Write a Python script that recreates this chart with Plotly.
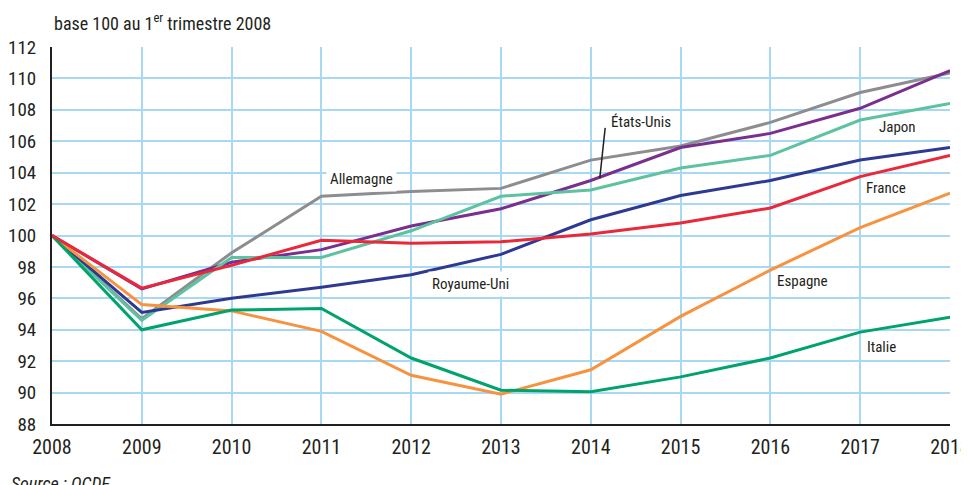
import plotly.graph_objects as go

years = [2008, 2009, 2010, 2011, 2012, 2013, 2014, 2015, 2016, 2017, 2018]

allemagne = [100, 94.7, 98.9, 102.5, 102.8, 103.0, 104.8, 105.7, 107.2, 109.1, 110.35]
etats_unis = [100, 96.6, 98.3, 99.1, 100.6, 101.7, 103.5, 105.6, 106.5, 108.1, 110.5]
japon = [100, 94.6, 98.6, 98.6, 100.3, 102.5, 102.9, 104.3, 105.1, 107.35, 108.4]
royaume_uni = [100, 95.1, 96.0, 96.7, 97.5, 98.8, 101.0, 102.55, 103.5, 104.8, 105.6]
france = [100, 96.65, 98.1, 99.7, 99.5, 99.6, 100.1, 100.8, 101.75, 103.75, 105.1]
espagne = [100, 95.6, 95.2, 93.9, 91.1, 89.9, 91.45, 94.85, 97.8, 100.5, 102.7]
italie = [100, 94.0, 95.25, 95.35, 92.2, 90.15, 90.05, 91.0, 92.2, 93.85, 94.8]

series = [
    ("Allemagne", allemagne, "#8d8d8f"),
    ("États-Unis", etats_unis, "#7a2e8e"),
    ("Japon", japon, "#5cc29f"),
    ("Royaume-Uni", royaume_uni, "#2e3a92"),
    ("Espagne", espagne, "#f7923f"),
    ("Italie", italie, "#00a36c"),
    ("France", france, "#e9283a"),
]

x_ticks = years
y_ticks = list(range(88, 113, 2))

FONT = "Liberation Sans Narrow, Roboto Condensed, Arial Narrow, sans-serif"
TXT = "#231f20"

fig = go.Figure()
for name, vals, col in series:
    fig.add_trace(go.Scatter(x=years, y=vals, mode="lines", name=name,
                             line=dict(color=col, width=3), showlegend=False,
                             hoverinfo="x+y+name"))

labels = [
    ("Allemagne", 2011.45, 103.58, True),
    ("Royaume-Uni", 2012.66, 96.89, True),
    ("États-Unis", 2014.56, 107.22, False),
    ("Japon", 2017.41, 106.89, False),
    ("France", 2017.29, 103.0, False),
    ("Espagne", 2016.36, 97.12, False),
    ("Italie", 2017.24, 92.92, False),
]
for txt, lx, ly, bg in labels:
    fig.add_annotation(x=lx, y=ly, xref="x", yref="y", text=txt, showarrow=False,
                       font=dict(family=FONT, size=15, color=TXT),
                       bgcolor="white" if bg else "rgba(0,0,0,0)", borderpad=3)

# leader line for États-Unis
fig.add_shape(type="line", xref="x", yref="y", x0=2014.1, y0=103.65, x1=2014.16, y1=106.85,
              line=dict(color="#231f20", width=1.5))

PW, PH = 898, 377
fig.add_annotation(x=0, y=1 + 25 / PH, xref="paper", yref="paper", xanchor="left",
                   yanchor="middle", text="base 100 au 1<sup>er</sup> trimestre 2008",
                   showarrow=False, font=dict(family=FONT, size=18, color=TXT))
fig.add_annotation(x=-43 / PW, y=-47 / PH, xref="paper", yref="paper",
                   text="<i>Source : OCDE</i>", showarrow=False,
                   font=dict(family=FONT, size=18, color=TXT),
                   xanchor="left", yanchor="top")

fig.update_layout(
    width=969, height=485,
    margin=dict(l=44, r=27, t=39, b=69, autoexpand=False),
    paper_bgcolor="white", plot_bgcolor="white",
    font=dict(family=FONT, color=TXT),
    xaxis=dict(range=[2008, 2018], tickvals=x_ticks, ticktext=[str(v) for v in x_ticks],
               showgrid=True, gridcolor="#a9d9f2", gridwidth=1.5,
               showline=True, linecolor="#231f20", linewidth=2,
               ticks="", tickfont=dict(family=FONT, size=20, color=TXT),
               ticklabelstandoff=4, ticklabeloverflow="allow",
               zeroline=False, automargin=False),
    yaxis=dict(range=[88, 112], tickvals=y_ticks,
               showgrid=True, gridcolor="#a9d9f2", gridwidth=1.5,
               showline=True, linecolor="#231f20", linewidth=2,
               ticks="", tickfont=dict(family=FONT, size=19, color=TXT),
               ticklabelstandoff=10, ticklabeloverflow="allow",
               zeroline=False, automargin=False),
)

fig.write_html("out.html")
